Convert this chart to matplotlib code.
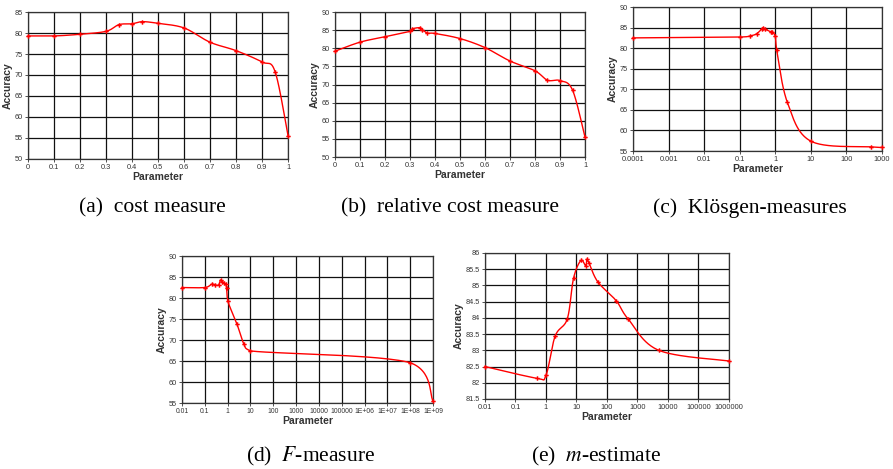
import numpy as np
import matplotlib
matplotlib.use("Agg")
import matplotlib.pyplot as plt

# ---- data ----
cost_x = [0, 0.1, 0.2, 0.3, 0.35, 0.4, 0.44, 0.5, 0.6, 0.7, 0.8, 0.9, 0.95, 1.0]
cost_y = [79.3, 79.3, 79.7, 80.4, 82.0, 82.2, 82.7, 82.3, 81.2, 77.8, 75.8, 73.1, 70.8, 55.5]

rel_x = [0, 0.1, 0.2, 0.3, 0.31, 0.34, 0.35, 0.37, 0.4, 0.5, 0.6, 0.7, 0.8, 0.85, 0.9, 0.95, 1.0]
rel_y = [79.2, 81.7, 83.2, 84.7, 85.4, 85.7, 85.1, 84.2, 84.1, 82.7, 80.2, 76.5, 73.8, 71.2, 71.1, 68.5, 55.5]

klo_x = [0.0001, 0.1, 0.2, 0.3, 0.42, 0.46, 0.5, 0.74, 0.83, 1.0, 1.1, 2.2, 10, 500, 1000]
klo_y = [82.5, 82.7, 83.0, 83.5, 84.7, 85.0, 84.7, 84.0, 83.9, 82.9, 79.5, 66.8, 57.4, 56.0, 55.9]

f_x = [0.01, 0.1, 0.2, 0.29, 0.4, 0.49, 0.58, 0.69, 0.82, 0.9, 1.03, 2.6, 5.1, 10, 1e8, 1e9]
f_y = [82.5, 82.5, 83.3, 83.1, 83.1, 84.3, 83.9, 83.6, 83.3, 82.3, 79.2, 73.7, 69.1, 67.4, 64.6, 55.5]

m_x = [0.01, 0.5, 1, 2, 5, 8, 14, 20, 22, 25.5, 50, 200, 500, 5000, 1e6]
m_y = [82.5, 82.14, 82.23, 83.44, 83.97, 85.22, 85.77, 85.6, 85.81, 85.7, 85.11, 84.53, 83.96, 83.0, 82.67]

cost_xticks = [0, 0.1, 0.2, 0.3, 0.4, 0.5, 0.6, 0.7, 0.8, 0.9, 1]
cost_xlabels = ["0", "0.1", "0.2", "0.3", "0.4", "0.5", "0.6", "0.7", "0.8", "0.9", "1"]
klo_xticks = [1e-4, 1e-3, 1e-2, 0.1, 1, 10, 100, 1000]
klo_xlabels = ["0.0001", "0.001", "0.01", "0.1", "1", "10", "100", "1000"]
f_xticks = [10.0 ** k for k in range(-2, 10)]
f_xlabels = ["0.01", "0.1", "1", "10", "100", "1000", "10000", "100000",
             "1E+06", "1E+07", "1E+08", "1E+09"]
m_xticks = [10.0 ** k for k in range(-2, 7)]
m_xlabels = ["0.01", "0.1", "1", "10", "100", "1000", "10000", "100000", "1000000"]

captions = ["(a)  cost measure", "(b)  relative cost measure", "(c)  Klösgen-measures",
            "(d)  $F$-measure", "(e)  $m$-estimate"]

plt.rcParams["font.family"] = ["Liberation Sans", "DejaVu Sans"]
plt.rcParams["mathtext.fontset"] = "stix"


def smooth(ax, xs, ys, logx):
    """Excel-style smoothed line: cubic Bezier through the points, built in screen space."""
    x0, x1 = ax.get_xlim()
    y0, y1 = ax.get_ylim()
    bb = ax.get_position()
    fw, fh = ax.figure.get_size_inches()
    w, h = bb.width * fw, bb.height * fh
    tx = np.log10 if logx else (lambda v: np.asarray(v, float))
    u = (tx(np.asarray(xs, float)) - tx(x0)) / (tx(x1) - tx(x0)) * w
    v = (np.asarray(ys, float) - y0) / (y1 - y0) * h
    P = np.column_stack([u, v])
    n = len(P)
    Pe = np.vstack([P[0], P, P[-1]])
    t = np.linspace(0, 1, 30)[:, None]
    out = [P[:1]]
    for i in range(n - 1):
        a, b = P[i], P[i + 1]
        c1 = a + (Pe[i + 2] - Pe[i]) / 6.0
        c2 = b - (Pe[i + 3] - Pe[i + 1]) / 6.0
        c1[0] = np.clip(c1[0], a[0], b[0])
        c2[0] = np.clip(c2[0], a[0], b[0])
        seg = ((1 - t) ** 3) * a + 3 * ((1 - t) ** 2) * t * c1 + 3 * (1 - t) * t ** 2 * c2 + t ** 3 * b
        out.append(seg[1:])
    C = np.vstack(out)
    cx = C[:, 0] / w * (tx(x1) - tx(x0)) + tx(x0)
    cx = 10 ** cx if logx else cx
    cy = C[:, 1] / h * (y1 - y0) + y0
    ax.plot(cx, cy, color="#ff0000", lw=1.0, zorder=3, clip_on=False)
    ax.plot(xs, ys, ls="none", marker="P", ms=3.2, color="#ff0000", mew=0, zorder=4, clip_on=False)


def panel(rect, xs, ys, xlim, ylim, yticks, ylabels, xticks, xlabels, logx, caption, cap_xy,
          xsize=5.3):
    ax = fig.add_axes(rect)
    if logx:
        ax.set_xscale("log")
    ax.set_xlim(*xlim)
    ax.set_ylim(*ylim)
    ax.set_xticks(xticks)
    ax.set_xticklabels(xlabels)
    ax.set_yticks(yticks)
    ax.set_yticklabels(ylabels)
    ax.minorticks_off()
    ax.tick_params(labelsize=5.3, length=2, width=0.6, pad=1.5, colors="#333333")
    ax.tick_params(axis="x", labelsize=xsize)
    ax.grid(True, color="#111111", lw=0.9)
    for s in ax.spines.values():
        s.set_color("#333333")
        s.set_linewidth(0.9)
    ax.set_xlabel("Parameter", fontsize=7.5, fontweight="bold", color="#333333", labelpad=0.5)
    ax.set_ylabel("Accuracy", fontsize=7.5, fontweight="bold", color="#333333", labelpad=1.5)
    smooth(ax, xs, ys, logx)
    fig.text(cap_xy[0], cap_xy[1], caption, ha="center", va="center",
             fontsize=15.5, family=["Liberation Serif", "DejaVu Serif"])
    return ax


fig = plt.figure(figsize=(8.93, 4.69), dpi=100)

panel([0.0314, 0.661, 0.2912, 0.3134], cost_x, cost_y, (0, 1), (50, 85),
      list(range(50, 90, 5)), [str(v) for v in range(50, 90, 5)],
      cost_xticks, cost_xlabels, False, captions[0], (152 / 893, 1 - 208 / 469))

panel([0.3751, 0.6652, 0.280, 0.309], rel_x, rel_y, (0, 1), (50, 90),
      list(range(50, 95, 5)), [str(v) for v in range(50, 95, 5)],
      cost_xticks, cost_xlabels, False, captions[1], (450 / 893, 1 - 208 / 469))

panel([0.7088, 0.678, 0.2788, 0.307], klo_x, klo_y, (1e-4, 1000), (55, 90),
      list(range(55, 95, 5)), [str(v) for v in range(55, 95, 5)],
      klo_xticks, klo_xlabels, True, captions[2], (750 / 893, 1 - 208 / 469))

panel([0.2038, 0.1407, 0.2811, 0.3134], f_x, f_y, (0.01, 1e9), (55, 90),
      list(range(55, 95, 5)), [str(v) for v in range(55, 95, 5)],
      f_xticks, f_xlabels, True, captions[3], (311 / 893, 1 - 456 / 469), xsize=4.9)

m_yt = [81.5, 82, 82.5, 83, 83.5, 84, 84.5, 85, 85.5, 86]
panel([0.5431, 0.1493, 0.2732, 0.3113], m_x, m_y, (0.01, 1e6), (81.5, 86),
      m_yt, [f"{v:g}" for v in m_yt],
      m_xticks, m_xlabels, True, captions[4], (596 / 893, 1 - 456 / 469))

fig.savefig("out.png", dpi=100)
